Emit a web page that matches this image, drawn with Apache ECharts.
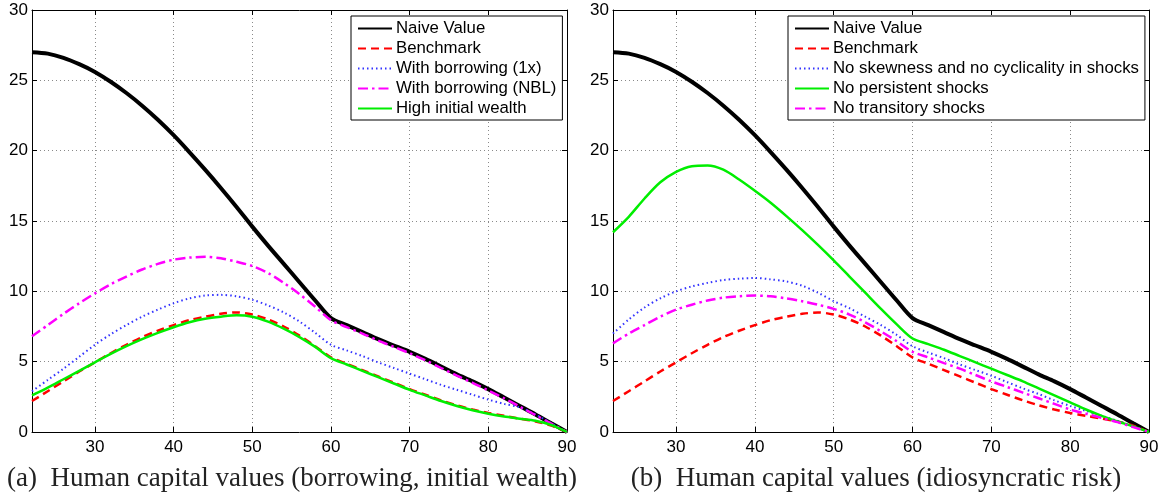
<!DOCTYPE html>
<html><head><meta charset="utf-8">
<script src="https://cdn.jsdelivr.net/npm/echarts@6/dist/echarts.min.js"></script>
<style>html,body{margin:0;padding:0;background:#fff}#c{width:1165px;height:500px}</style>
</head><body><div id="c"></div>
<script>
const ages = [22,24,26,28,30,32,34,36,38,40,42,44,46,48,50,52,54,56,58,60,62,64,66,68,70,72,74,76,78,80,82,84,86,88,90];
const naive = [27.0,26.9,26.6,26.15,25.6,24.9,24.1,23.2,22.2,21.1,19.9,18.65,17.35,16.0,14.6,13.25,11.95,10.65,9.35,8.1,7.6,7.1,6.6,6.15,5.7,5.2,4.65,4.1,3.6,3.05,2.45,1.85,1.25,0.62,0];
const benchmark = [2.2,2.9,3.6,4.3,4.95,5.6,6.2,6.75,7.2,7.6,7.95,8.2,8.4,8.5,8.35,8.0,7.5,6.85,6.1,5.3,4.85,4.4,3.95,3.5,3.05,2.65,2.25,1.9,1.6,1.35,1.15,0.95,0.75,0.45,0];
const borrow1x = [2.9,3.7,4.5,5.35,6.2,6.95,7.6,8.2,8.7,9.15,9.5,9.7,9.75,9.65,9.4,9.0,8.5,7.85,7.05,6.2,5.8,5.4,4.95,4.55,4.15,3.75,3.35,3.0,2.65,2.3,2.0,1.75,1.25,0.62,0];
const borrowNBL = [6.8,7.6,8.4,9.15,9.85,10.5,11.05,11.55,11.95,12.25,12.4,12.45,12.35,12.1,11.8,11.3,10.6,9.8,8.9,7.95,7.45,7.0,6.5,6.05,5.6,5.1,4.55,4.0,3.5,2.95,2.4,1.8,1.2,0.6,0];
const highWealth = [2.6,3.15,3.75,4.35,4.95,5.55,6.1,6.6,7.05,7.45,7.8,8.05,8.2,8.3,8.2,7.85,7.35,6.75,6.05,5.25,4.8,4.35,3.9,3.45,3.0,2.6,2.2,1.85,1.55,1.3,1.1,0.95,0.8,0.5,0];
const noSkew = [7.0,8.0,8.85,9.5,10.0,10.35,10.6,10.8,10.9,10.95,10.85,10.7,10.4,9.9,9.3,8.8,8.2,7.6,6.9,6.1,5.65,5.25,4.8,4.4,4.0,3.55,3.1,2.7,2.25,1.85,1.5,1.15,0.8,0.4,0];
const noPersistent = [14.2,15.3,16.6,17.75,18.5,18.9,18.95,18.65,17.95,17.15,16.3,15.35,14.35,13.3,12.2,11.05,9.9,8.75,7.65,6.65,6.25,5.85,5.4,4.95,4.5,4.05,3.6,3.1,2.6,2.1,1.6,1.15,0.75,0.4,0];
const noTransitory = [6.3,7.0,7.6,8.2,8.7,9.05,9.35,9.55,9.65,9.7,9.65,9.5,9.3,9.05,8.75,8.35,7.8,7.15,6.45,5.7,5.3,4.9,4.5,4.05,3.6,3.2,2.8,2.4,2.0,1.6,1.3,1.0,0.7,0.35,0];
const xTicks = [30,40,50,60,70,80,90];
const yTicks = [0,5,10,15,20,25,30];
const captions = ['(a)  Human capital values (borrowing, initial wealth)', '(b)  Human capital values (idiosyncratic risk)'];
const legendA = ['Naive Value','Benchmark','With borrowing (1x)','With borrowing (NBL)','High initial wealth'];
const legendB = ['Naive Value','Benchmark','No skewness and no cyclicality in shocks','No persistent shocks','No transitory shocks'];

const pair = a => ages.map((x,i)=>[x,a[i]]);
const sans = 'Liberation Sans, Arial, sans-serif';
const styles = {
  black:{color:'#000', width:4, type:'solid'},
  red:{color:'#ff0000', width:2.5, type:[8,5]},
  blue:{color:'#3333ff', width:2, type:[1.5,3]},
  magenta:{color:'#ff00ff', width:2.5, type:[10,4,2.5,4]},
  green:{color:'#00ee00', width:2.5, type:'solid'}
};
function mk(name, data, st, g){
  return {type:'line', name, data:pair(data), xAxisIndex:g*2, yAxisIndex:g*2, symbol:'none', smooth:0.3,
    lineStyle:{color:st.color, width:st.width, type:st.type}, itemStyle:{color:st.color}, animation:false};
}
function xAx(g, pos){
  const main = pos==='bottom';
  return {gridIndex:g, type:'value', min:22, max:90, splitNumber:7, position:pos,
    axisLine:{show:true, onZero:false, lineStyle:{color:'#000', width:1}},
    axisTick:{show:true, inside:true, length:5, lineStyle:{color:'#000'}},
    axisLabel:{show:main, formatter:v=> xTicks.includes(v)? String(v):'', color:'#000', fontSize:17, fontFamily:sans, margin:7},
    splitLine:{show:main, lineStyle:{color:'#8a8a8a', width:1, type:[1,3]}}};
}
function yAx(g, pos){
  const main = pos==='left';
  return {gridIndex:g, type:'value', min:0, max:30, interval:5, position:pos,
    axisLine:{show:true, onZero:false, lineStyle:{color:'#000', width:1}},
    axisTick:{show:true, inside:true, length:5, lineStyle:{color:'#000'}},
    axisLabel:{show:main, formatter:v=> yTicks.includes(v)? String(v):'', color:'#000', fontSize:17, fontFamily:sans, margin:4},
    splitLine:{show:main, lineStyle:{color:'#8a8a8a', width:1, type:[1,3]}}};
}
function legend(left, data){
  return {left, top:16, orient:'vertical', data, itemWidth:34, itemHeight:14, itemGap:3,
    padding:[4,6,3,6], borderColor:'#000', borderWidth:1, backgroundColor:'#fff',
    itemStyle:{opacity:0},
    textStyle:{color:'#000', fontSize:16.8, fontFamily:sans, padding:[0,0,0,-1]}, selectedMode:false};
}
const option = {
  animation:false,
  grid:[{left:32, right:598, top:10, bottom:68}, {left:613, right:16, top:10, bottom:68}].map(g=>({...g, show:false})),
  xAxis:[xAx(0,'bottom'), xAx(0,'top'), xAx(1,'bottom'), xAx(1,'top')],
  yAxis:[yAx(0,'left'), yAx(0,'right'), yAx(1,'left'), yAx(1,'right')],
  legend:[legend(351, legendA), legend(788, legendB)],
  series:[
    mk(legendA[0], naive, styles.black, 0),
    mk(legendA[1], benchmark, styles.red, 0),
    mk(legendA[2], borrow1x, styles.blue, 0),
    mk(legendA[3], borrowNBL, styles.magenta, 0),
    mk(legendA[4], highWealth, styles.green, 0),
    mk(legendB[0], naive, styles.black, 1),
    mk(legendB[1], benchmark, styles.red, 1),
    mk(legendB[2], noSkew, styles.blue, 1),
    mk(legendB[3], noPersistent, styles.green, 1),
    mk(legendB[4], noTransitory, styles.magenta, 1)
  ],
  graphic:[
    {type:'text', x:292, y:479, style:{text:captions[0], font:'27px "Liberation Serif", serif', fill:'#222', align:'center', verticalAlign:'middle'}},
    {type:'text', x:876, y:479, style:{text:captions[1], font:'27px "Liberation Serif", serif', fill:'#222', align:'center', verticalAlign:'middle'}}
  ]
};
const chart = echarts.init(document.getElementById('c'), null, {renderer:'canvas'});
chart.setOption(option);
</script></body></html>
